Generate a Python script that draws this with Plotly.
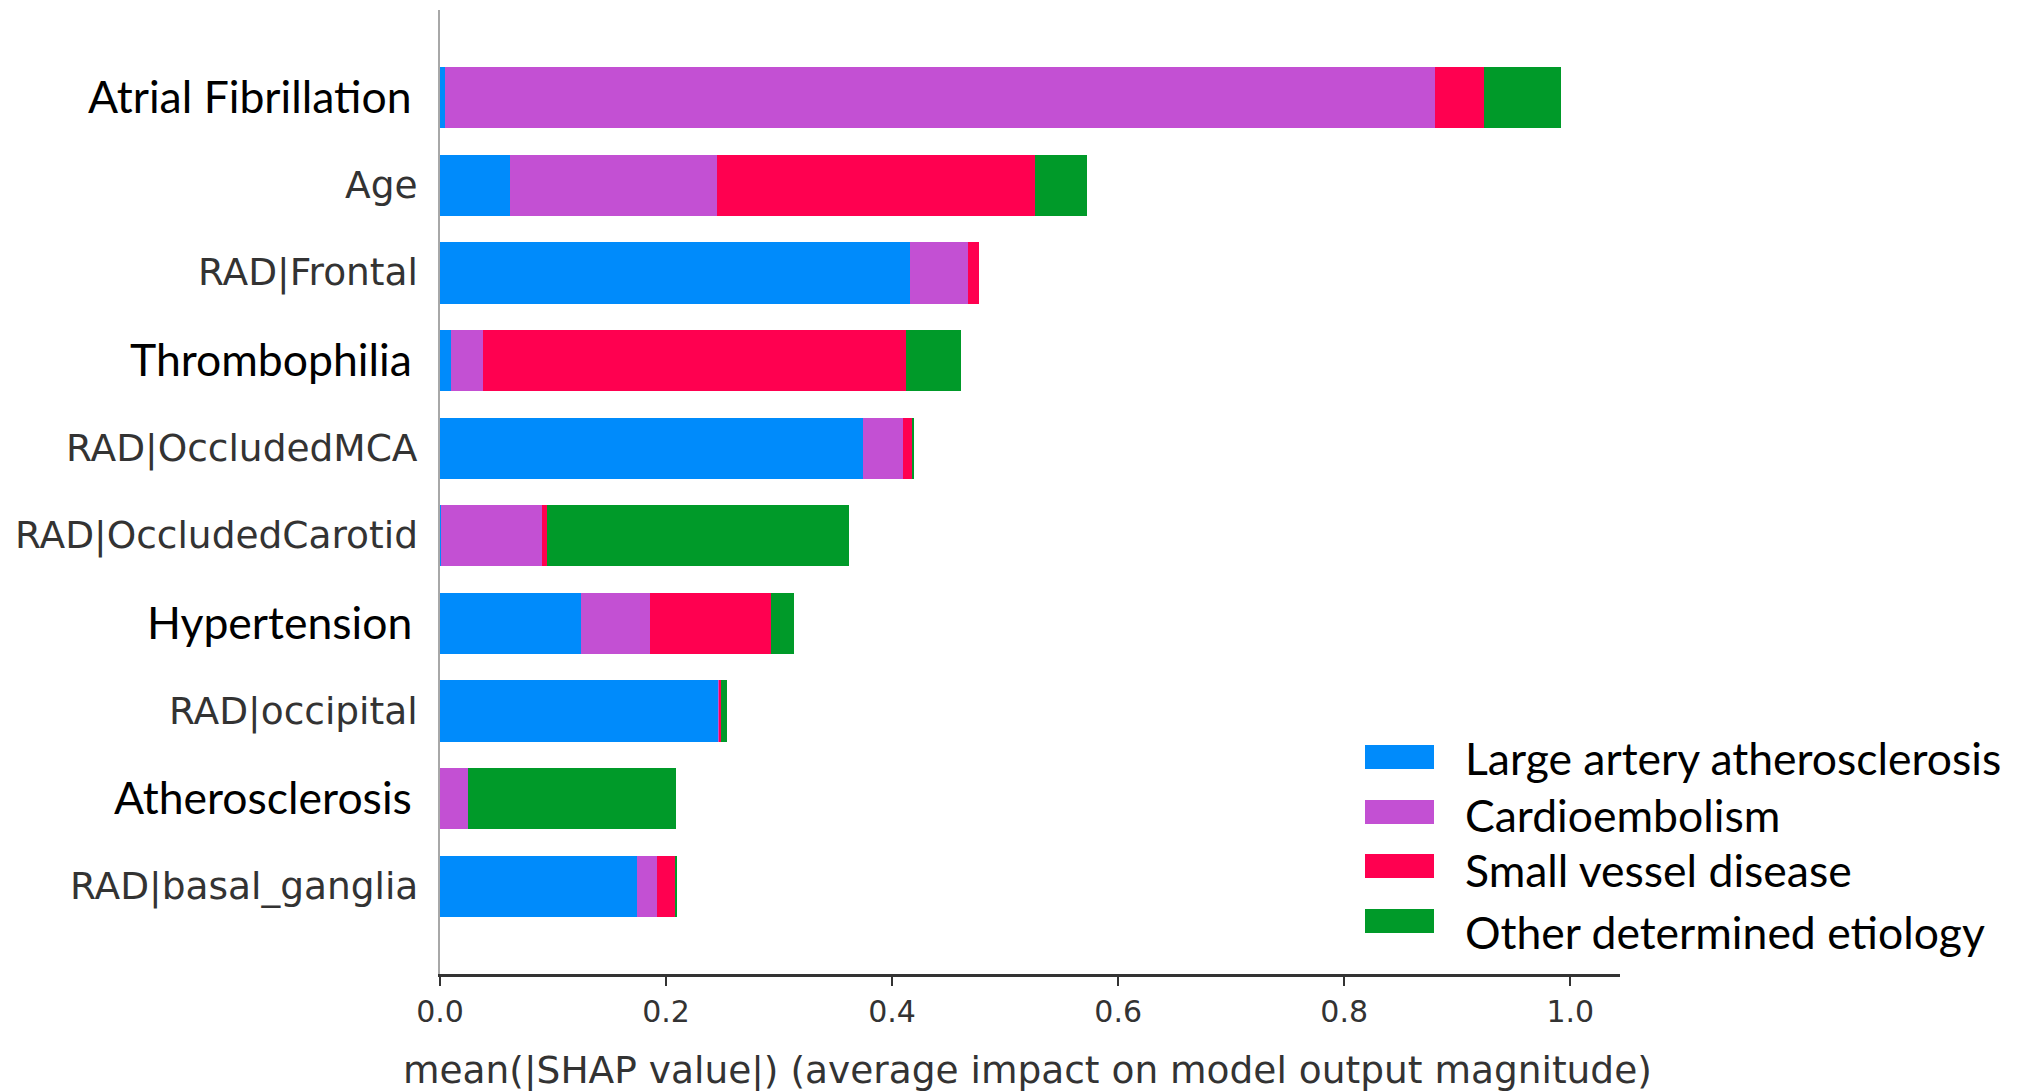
import plotly.graph_objects as go

# Features, top to bottom
features = [
    "Atrial Fibrillation", "Age", "RAD|Frontal", "Thrombophilia",
    "RAD|OccludedMCA", "RAD|OccludedCarotid", "Hypertension",
    "RAD|occipital", "Atherosclerosis", "RAD|basal_ganglia",
]
# Clinical features are labelled in a separate typeface
clinical = ["Atrial Fibrillation", "Thrombophilia", "Hypertension", "Atherosclerosis"]

classes = ["Large artery atherosclerosis", "Cardioembolism",
           "Small vessel disease", "Other determined etiology"]
class_colors = ["#008bfb", "#c350d3", "#ff0050", "#009a29"]

# mean(|SHAP|) per class, in the same order as `features`
large_artery = [0.004, 0.062, 0.416, 0.010, 0.374, 0.001, 0.125, 0.246, 0.000, 0.174]
cardioembolism = [0.876, 0.183, 0.051, 0.028, 0.036, 0.089, 0.061, 0.001, 0.025, 0.018]
small_vessel = [0.044, 0.281, 0.010, 0.374, 0.0075, 0.005, 0.107, 0.002, 0.000, 0.016]
other_etiology = [0.068, 0.046, 0.000, 0.049, 0.002, 0.267, 0.020, 0.005, 0.184, 0.001]
series = [large_artery, cardioembolism, small_vessel, other_etiology]

x_ticks = [0.0, 0.2, 0.4, 0.6, 0.8, 1.0]
x_title = "mean(|SHAP value|) (average impact on model output magnitude)"

W, H = 2029, 1091
L, R, T, B = 440, 409, 10, 117
plot_w, plot_h = W - L - R, H - T - B


def px_x(px):
    return (px - L) / plot_w


def px_y(py):
    return (H - B - py) / plot_h


n = len(features)
ypos = [n - 1 - i for i in range(n)]

fig = go.Figure()
for name, vals, col in zip(classes, series, class_colors):
    fig.add_trace(go.Bar(
        x=vals, y=ypos, orientation="h", width=0.7, name=name,
        marker=dict(color=col, line=dict(width=0)), showlegend=False,
    ))

annotations = []
for feat, yp in zip(features, ypos):
    if feat in clinical:
        annotations.append(dict(
            x=0, y=yp, xref="x", yref="y", text=feat, showarrow=False,
            xanchor="right", yanchor="middle", xshift=-26, yshift=2,
            font=dict(family="Lato", size=44.5, color="#000000"),
        ))
    else:
        annotations.append(dict(
            x=0, y=yp, xref="x", yref="y", text=feat, showarrow=False,
            xanchor="right", yanchor="middle", xshift=-20,
            font=dict(family="DejaVu Sans", size=37.5, color="#333333"),
        ))

# x-axis title
annotations.append(dict(
    x=px_x(1027), y=px_y(1070), xref="paper", yref="paper", text=x_title,
    showarrow=False, xanchor="center", yanchor="middle",
    font=dict(family="DejaVu Sans", size=37.5, color="#333333"),
))

# Legend drawn as coloured boxes with labels
shapes = []
box_centers = [757, 812, 866, 921]
text_centers = [757, 814, 869, 931]
for name, col, bc, tc in zip(classes, class_colors, box_centers, text_centers):
    shapes.append(dict(
        type="rect", xref="paper", yref="paper",
        x0=px_x(1365), x1=px_x(1434), y0=px_y(bc + 12), y1=px_y(bc - 12),
        fillcolor=col, line=dict(width=0),
    ))
    annotations.append(dict(
        x=px_x(1463), y=px_y(tc), xref="paper", yref="paper", text=name,
        showarrow=False, xanchor="left", yanchor="middle",
        font=dict(family="Lato", size=44.5, color="#000000"),
    ))

fig.update_layout(
    width=W, height=H, barmode="stack",
    margin=dict(l=L, r=R, t=T, b=B),
    paper_bgcolor="white", plot_bgcolor="white",
    annotations=annotations, shapes=shapes, bargap=0,
)
fig.update_xaxes(
    range=[0, 1.044], tickvals=x_ticks, ticktext=[f"{v:.1f}" for v in x_ticks],
    showgrid=False, zeroline=False, showline=True, linecolor="#333333",
    linewidth=2.5, ticks="outside", ticklen=9, tickwidth=1.5, tickcolor="#333333",
    tickfont=dict(family="DejaVu Sans", size=30, color="#333333"),
)
fig.update_yaxes(
    range=[-1, n], showticklabels=False, showgrid=False, zeroline=False,
    showline=True, linecolor="#a8a8a8", linewidth=1.5, ticks="",
)

fig.write_html("out.html")
